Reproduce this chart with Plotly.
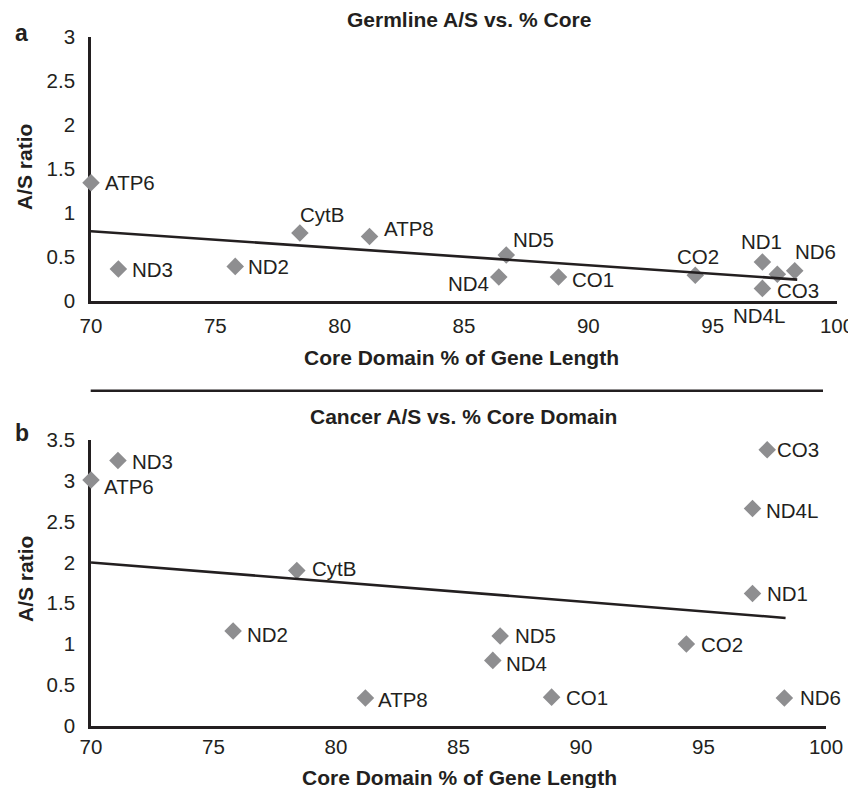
import plotly.graph_objects as go

# ---------------- data ----------------
genes = ["ATP6", "ND3", "ND2", "CytB", "ATP8", "ND4", "ND5", "CO1", "CO2", "ND1", "ND4L", "CO3", "ND6"]
core_pct = [70.0, 71.1, 75.8, 78.4, 81.2, 86.4, 86.7, 88.8, 94.3, 97.0, 97.0, 97.6, 98.3]
germline_as = [1.34, 0.36, 0.39, 0.77, 0.73, 0.27, 0.52, 0.27, 0.29, 0.44, 0.14, 0.30, 0.34]
cancer_as = [3.01, 3.25, 1.16, 1.90, 0.34, 0.80, 1.10, 0.35, 1.00, 1.62, 2.66, 3.38, 0.34]

germline_trend_x = [70.0, 98.4]
germline_trend_y = [0.79, 0.24]
cancer_trend_x = [70.0, 98.35]
cancer_trend_y = [2.00, 1.32]

x_ticks = [70, 75, 80, 85, 90, 95, 100]
germline_y_ticks = [0, 0.5, 1, 1.5, 2, 2.5, 3]
cancer_y_ticks = [0, 0.5, 1, 1.5, 2, 2.5, 3, 3.5]

# label placement (anchor, x-shift px, y-shift px) per gene
germline_label_pos = {
    "ATP6": ("left", 14, 0), "ND3": ("left", 14, 0), "ND2": ("left", 13, 0),
    "CytB": ("left", 0, 18), "ATP8": ("left", 14, 8), "ND4": ("right", -10, -7),
    "ND5": ("left", 7, 15), "CO1": ("left", 14, -3), "CO2": ("center", 3, 19),
    "ND1": ("center", -1, 20), "ND4L": ("center", -3, -27), "CO3": ("left", 0, -16),
    "ND6": ("left", 0, 19),
}
cancer_label_pos = {
    "ATP6": ("left", 13, -6), "ND3": ("left", 14, -1), "ND2": ("left", 14, -3),
    "CytB": ("left", 15, 2), "ATP8": ("left", 13, -2), "ND4": ("left", 13, -3),
    "ND5": ("left", 15, 0), "CO1": ("left", 14, 0), "CO2": ("left", 15, 0),
    "ND1": ("left", 14, 0), "ND4L": ("left", 13, -2), "CO3": ("left", 10, 0),
    "ND6": ("left", 16, 0),
}

# ---------------- style ----------------
PAGE_OFFSET = 8          # default page margin of the HTML body
W, H = 856 - PAGE_OFFSET, 788 - PAGE_OFFSET
INK = "#231f20"
GRAY = "#8e8e90"
FONT = "Liberation Sans, Arial, Helvetica, sans-serif"
LBL = 20.5
TTL = 21


def px_x(p):
    return (p - PAGE_OFFSET) / W


def px_y(p):
    return 1 - (p - PAGE_OFFSET) / H


fig = go.Figure()

fig.add_trace(go.Scatter(x=core_pct, y=germline_as, mode="markers",
                         marker=dict(symbol="diamond", size=13.5, color=GRAY, line=dict(width=0)),
                         cliponaxis=False, xaxis="x", yaxis="y", showlegend=False))
fig.add_trace(go.Scatter(x=germline_trend_x, y=germline_trend_y, mode="lines",
                         line=dict(color=INK, width=2.6), cliponaxis=False,
                         xaxis="x", yaxis="y", showlegend=False))
fig.add_trace(go.Scatter(x=core_pct, y=cancer_as, mode="markers",
                         marker=dict(symbol="diamond", size=13.5, color=GRAY, line=dict(width=0)),
                         cliponaxis=False, xaxis="x2", yaxis="y2", showlegend=False))
fig.add_trace(go.Scatter(x=cancer_trend_x, y=cancer_trend_y, mode="lines",
                         line=dict(color=INK, width=2.6), cliponaxis=False,
                         xaxis="x2", yaxis="y2", showlegend=False))

axis_common = dict(showgrid=False, zeroline=False, showline=True, linecolor=INK, linewidth=2.6,
                   ticks="", tickfont=dict(family=FONT, size=LBL, color=INK),
                   layer="below traces", fixedrange=True, automargin=False)

fig.update_layout(
    template="none",
    width=W, height=H,
    margin=dict(l=0, r=0, t=0, b=0, pad=0, autoexpand=False),
    paper_bgcolor="white", plot_bgcolor="white",
    font=dict(family=FONT, color=INK),
    xaxis=dict(domain=[px_x(91), px_x(837)], range=[70, 100], tickvals=x_ticks,
               anchor="y", ticklabelstandoff=5, **axis_common),
    yaxis=dict(domain=[px_y(300.7), px_y(36.7)], range=[0, 3], tickvals=germline_y_ticks,
               anchor="x", ticklabelstandoff=9, **axis_common),
    xaxis2=dict(domain=[px_x(91), px_x(826)], range=[70, 100], tickvals=x_ticks,
                anchor="y2", ticklabelstandoff=1, **axis_common),
    yaxis2=dict(domain=[px_y(725.7), px_y(440)], range=[0, 3.5], tickvals=cancer_y_ticks,
                anchor="x2", ticklabelstandoff=9, **axis_common),
)

annotations = []


def add_text(text, x, y, size, bold=False, angle=0, xanchor="center"):
    annotations.append(dict(text=f"<b>{text}</b>" if bold else text, x=px_x(x), y=px_y(y),
                            xref="paper", yref="paper", showarrow=False, textangle=angle,
                            xanchor=xanchor, yanchor="middle",
                            font=dict(family=FONT, size=size, color=INK)))


add_text("Germline A/S vs. % Core", 469, 19.5, TTL, bold=True)
add_text("Core Domain % of Gene Length", 461, 357, TTL, bold=True)
add_text("A/S ratio", 25, 167, TTL, bold=True, angle=-90)
add_text("a", 21, 33, 23, bold=True)

add_text("Cancer A/S vs. % Core Domain", 463, 416.7, TTL, bold=True)
add_text("Core Domain % of Gene Length", 459, 777, TTL, bold=True)
add_text("A/S ratio", 25, 579, TTL, bold=True, angle=-90)
add_text("b", 22, 433, 23, bold=True)

for g, xv, yv in zip(genes, core_pct, germline_as):
    anc, dx, dy = germline_label_pos[g]
    annotations.append(dict(text=g, x=xv, y=yv, xref="x", yref="y", showarrow=False,
                            xanchor=anc, yanchor="middle", xshift=dx, yshift=dy,
                            borderpad=0, borderwidth=0,
                            font=dict(family=FONT, size=LBL, color=INK)))
for g, xv, yv in zip(genes, core_pct, cancer_as):
    anc, dx, dy = cancer_label_pos[g]
    annotations.append(dict(text=g, x=xv, y=yv, xref="x2", yref="y2", showarrow=False,
                            xanchor=anc, yanchor="middle", xshift=dx, yshift=dy,
                            borderpad=0, borderwidth=0,
                            font=dict(family=FONT, size=LBL, color=INK)))

fig.update_layout(annotations=annotations)

fig.add_shape(type="line", xref="paper", yref="paper",
              x0=px_x(90.7), x1=px_x(823), y0=px_y(390.7), y1=px_y(390.7),
              line=dict(color=INK, width=2.6))

fig.write_html("out.html")
